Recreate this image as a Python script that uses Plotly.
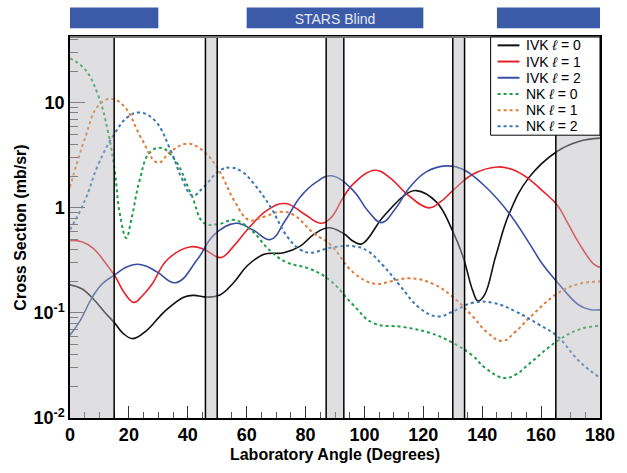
import plotly.graph_objects as go

# ---------------- data ----------------
ivk0_x = [0, 4, 8, 12, 15.2, 18, 21.4, 26, 32.1, 38.8, 42.2, 45.6, 50.7, 55.7, 60.2, 65.9, 72.6, 78.2, 82.7, 87.8, 92.9, 96.2, 99.1, 106.4, 114.3, 117.6, 124.4, 130, 133.4, 136.8, 138.5, 140.7, 144.6, 149.2, 155.9, 165.5, 172.8, 180]
ivk0_y = [0.185, 0.17, 0.135, 0.10, 0.080, 0.064, 0.057, 0.068, 0.103, 0.142, 0.147, 0.142, 0.147, 0.196, 0.281, 0.361, 0.374, 0.432, 0.556, 0.646, 0.57, 0.481, 0.454, 0.824, 1.36, 1.46, 1.14, 0.597, 0.348, 0.162, 0.130, 0.147, 0.348, 0.885, 1.95, 3.46, 4.29, 4.61]

ivk1_x = [0, 4, 8, 12, 15.2, 18.5, 21.7, 24.5, 27.6, 33.2, 41.1, 45.6, 51.2, 55.5, 60.2, 67, 73.2, 79.4, 85, 88.4, 92.9, 96.2, 103.6, 109, 114.3, 121.9, 126, 130, 136.8, 145.2, 150.5, 155.9, 160.5, 165.5, 169, 172.8, 177.9, 180]
ivk1_y = [0.49, 0.475, 0.41, 0.30, 0.226, 0.155, 0.126, 0.145, 0.183, 0.324, 0.426, 0.402, 0.336, 0.43, 0.618, 0.95, 1.10, 0.88, 0.714, 0.794, 1.27, 1.69, 2.28, 1.9, 1.36, 1.0, 1.15, 1.46, 2.09, 2.45, 2.3, 1.88, 1.45, 1.06, 0.72, 0.464, 0.291, 0.271]

ivk2_x = [0, 3.5, 7.3, 11, 15.2, 19, 22.8, 26, 29.8, 36, 43.3, 49, 56.3, 62, 68.1, 73, 78.2, 83.5, 88.9, 96.2, 101, 105.8, 110.5, 115.4, 121, 127.8, 133.4, 141.3, 149.2, 155.9, 160.5, 165.5, 172.8, 176.5, 180]
ivk2_y = [0.0614, 0.085, 0.137, 0.19, 0.23, 0.272, 0.291, 0.278, 0.243, 0.194, 0.324, 0.556, 0.714, 0.62, 0.499, 0.75, 1.27, 1.75, 2.02, 1.46, 0.95, 0.724, 0.98, 1.57, 2.2, 2.51, 2.33, 1.57, 0.885, 0.464, 0.29, 0.196, 0.119, 0.108, 0.107]

nk0_x = [0, 5.1, 9.6, 12.9, 15.2, 16.9, 19.1, 20.8, 23.6, 27, 31, 35.5, 41.1, 45.6, 50.7, 55.7, 61.4, 68.1, 73.7, 81.6, 88.4, 96.2, 103, 113.1, 122.2, 130, 136.8, 141, 147.5, 151.5, 155.9, 165.5, 172.8, 180]
nk0_y = [26.5, 20.8, 11.7, 5.32, 2.25, 0.885, 0.517, 0.767, 1.81, 3.34, 3.72, 2.89, 1.36, 0.714, 0.704, 0.767, 0.618, 0.388, 0.302, 0.262, 0.203, 0.119, 0.080, 0.0735, 0.0646, 0.052, 0.039, 0.030, 0.024, 0.026, 0.0327, 0.054, 0.0694, 0.0756]

nk1_x = [0, 5.1, 9.6, 14.1, 18.6, 24.2, 29.8, 34.3, 40.2, 45.6, 50.7, 55.7, 60.8, 65.9, 71.5, 76, 82.7, 88.4, 96.2, 103.6, 109, 115.4, 123.3, 130, 136.8, 141.5, 146.9, 151, 155.9, 165.5, 172.8, 180]
nk1_y = [1.57, 4.61, 9.4, 10.9, 9.12, 4.61, 2.69, 3.46, 4.08, 3.4, 2.25, 1.18, 0.767, 0.824, 0.917, 0.855, 0.575, 0.448, 0.243, 0.189, 0.2, 0.214, 0.189, 0.142, 0.0924, 0.066, 0.054, 0.065, 0.089, 0.153, 0.189, 0.199]

nk2_x = [0, 5.1, 9.6, 15.2, 19.7, 23.6, 28.7, 34.3, 38, 41.6, 45.6, 50.7, 54.6, 58.5, 62.5, 68.1, 73.7, 78.2, 81.6, 88.4, 96.2, 101, 106.4, 112, 118.8, 125, 130, 136.8, 143.5, 151.4, 159.3, 165.5, 172.8, 180]
nk2_y = [0.618, 1.18, 2.59, 5.13, 7.35, 8.07, 6.84, 3.46, 1.9, 1.31, 1.6, 2.25, 2.42, 2.2, 1.69, 1.02, 0.536, 0.40, 0.374, 0.417, 0.432, 0.39, 0.281, 0.183, 0.111, 0.0924, 0.103, 0.125, 0.125, 0.103, 0.0773, 0.060, 0.035, 0.0241]

series_names = ["IVK <i>ℓ</i> = 0", "IVK <i>ℓ</i> = 1", "IVK <i>ℓ</i> = 2",
                "NK <i>ℓ</i> = 0", "NK <i>ℓ</i> = 1", "NK <i>ℓ</i> = 2"]

shaded = [(0, 15), (46, 50), (87, 93), (130, 134), (165, 180)]
edge_lines = [15, 46, 50, 87, 93, 130, 134, 165]
blind_bars = [(0, 30), (60, 120), (145, 180)]
blind_labels = ["", "STARS Blind", ""]

x_ticks = list(range(0, 181, 20))
y_tickvals = [0.01, 0.1, 1, 10]
y_ticktext = ["10<sup>-2</sup>", "10<sup>-1</sup>", "1", "10"]

# ---------------- figure ----------------
FONT = "Liberation Sans, Arial, sans-serif"
fig = go.Figure()

colors = ["#111111", "#e8202a", "#3a4ea3", "#1f9e48", "#e07b39", "#3a75b5"]
dashes = ["solid", "solid", "solid", "dot", "dot", "dot"]
xs_all = [ivk0_x, ivk1_x, ivk2_x, nk0_x, nk1_x, nk2_x]
ys_all = [ivk0_y, ivk1_y, ivk2_y, nk0_y, nk1_y, nk2_y]
for name, xs, ys, col, dash in zip(series_names, xs_all, ys_all, colors, dashes):
    fig.add_trace(go.Scatter(
        x=xs, y=ys, name=name, mode="lines", showlegend=False,
        line=dict(color=col, width=1.6 if dash == "solid" else 2, dash=dash,
                  shape="spline", smoothing=1.2),
    ))

shapes = []
for a, b in shaded:
    shapes.append(dict(type="rect", xref="x", yref="paper", x0=a, x1=b, y0=0, y1=1,
                       fillcolor="rgba(185,183,188,0.45)", line=dict(width=0), layer="above"))
for xv in edge_lines:
    shapes.append(dict(type="line", xref="x", yref="paper", x0=xv, x1=xv, y0=0, y1=1,
                       line=dict(color="black", width=1.5), layer="above"))
# top frame (gray)
shapes.append(dict(type="line", xref="paper", yref="paper", x0=0, x1=1, y0=1, y1=1,
                   line=dict(color="#777777", width=2), layer="above"))
for (a, b), lab in zip(blind_bars, blind_labels):
    bar = dict(type="rect", xref="x", yref="paper", x0=a, x1=b, y0=1.0232, y1=1.0773,
               fillcolor="#3b5ba9", line=dict(width=0), layer="above")
    if lab:
        bar["label"] = dict(text=lab, textposition="middle center",
                            font=dict(size=14, color="#e6e8f0", family=FONT))
    shapes.append(bar)

# ---- legend box (drawn manually for compact row spacing) ----
PW, PH, L, T = 533.0, 388.0, 70.0, 37.0
def px(xp): return (xp - L) / PW
def py(yp): return (T + PH - yp) / PH
shapes.append(dict(type="rect", xref="paper", yref="paper",
                   x0=px(493), x1=1.0, y0=py(137), y1=1.0,
                   fillcolor="white", line=dict(color="black", width=1), layer="above"))
row_y = [45.5, 62, 78.5, 95, 111.5, 128]
annotations = []
for yy, name, col, dash in zip(row_y, series_names, colors, dashes):
    shapes.append(dict(type="line", xref="paper", yref="paper",
                       x0=px(500), x1=px(522), y0=py(yy), y1=py(yy),
                       line=dict(color=col, width=2, dash=dash), layer="above"))
    annotations.append(dict(xref="paper", yref="paper", x=px(528), y=py(yy),
                            xanchor="left", yanchor="middle", text=name, showarrow=False,
                            borderpad=0, valign="middle",
                            font=dict(size=14, family=FONT, color="black")))

fig.update_layout(
    width=627, height=473,
    margin=dict(l=70, r=24, t=37, b=48),
    paper_bgcolor="white", plot_bgcolor="white",
    font=dict(family=FONT, color="black"),
    shapes=shapes, annotations=annotations,
    showlegend=False,
)
fig.update_xaxes(
    range=[0, 180], tickvals=x_ticks, ticks="inside", ticklen=12, tickwidth=1,
    tickcolor="#333", showgrid=False, zeroline=False,
    showline=True, linecolor="black", linewidth=1.5, mirror=True,
    minor=dict(dtick=5, ticks="inside", ticklen=6, tickcolor="#555", showgrid=False),
    tickfont=dict(size=18, family=FONT, weight="bold"),
    title=dict(text="Laboratory Angle (Degrees)", standoff=4,
               font=dict(size=16, family=FONT, weight="bold")),
)
minor_vals = [m * 10 ** e for e in (-2, -1, 0, 1) for m in range(2, 10)]
fig.update_yaxes(
    type="log", range=[-2, 1.626], tickvals=y_tickvals, ticktext=y_ticktext,
    ticks="inside", ticklen=15, tickwidth=1, tickcolor="#555",
    showgrid=False, zeroline=False,
    showline=True, linecolor="black", linewidth=1.5, mirror=True,
    minor=dict(tickvals=minor_vals, ticks="inside", ticklen=8, tickcolor="#555", showgrid=False),
    tickfont=dict(size=18, family=FONT, weight="bold"),
    title=dict(text="Cross Section (mb/sr)", standoff=3,
               font=dict(size=16, family=FONT, weight="bold")),
)

fig.write_html("out.html")
